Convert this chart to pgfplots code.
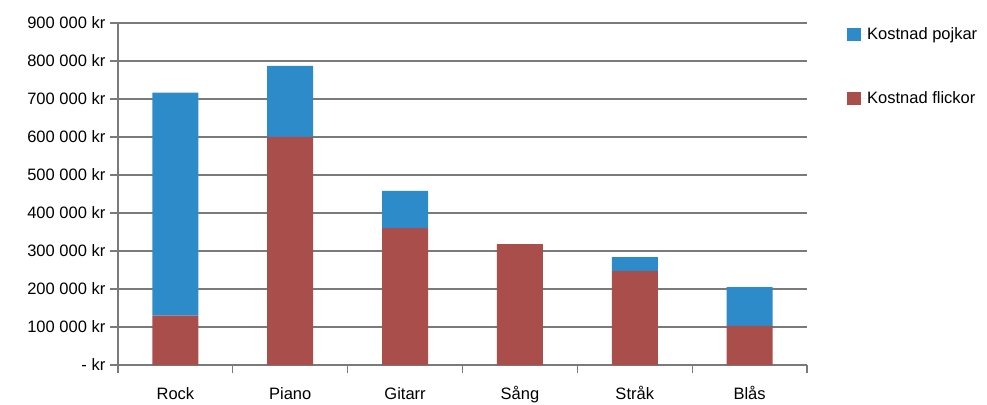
\documentclass[border=0pt]{standalone}
\usepackage{fontspec}
\setmainfont{Liberation Sans}
\usepackage{pgfplots}
\pgfplotsset{compat=1.18}
\definecolor{pojk}{HTML}{2E8BCA}
\definecolor{flick}{HTML}{A94E4B}
\definecolor{gridc}{HTML}{7A7A7A}
\begin{document}
\fontsize{16.5bp}{19bp}\selectfont
\begin{tikzpicture}
\path[use as bounding box] (-118bp,-40bp) rectangle (869bp,365bp);
\begin{axis}[
  at={(0,0)}, anchor=south west,
  scale only axis, width=689bp, height=342bp,
  ybar stacked, bar width=46bp,
  xmin=0, xmax=6, ymin=0, ymax=900000,
  axis lines*=left,
  axis line style={gridc, line width=1.3bp},
  xtick={0.5,1.5,2.5,3.5,4.5,5.5},
  xticklabels={Rock,Piano,Gitarr,Sång,Stråk,Blås},
  minor xtick={0,1,2,3,4,5,6},
  ytick={0,100000,200000,300000,400000,500000,600000,700000,800000,900000},
  yticklabels={- kr,100 000 kr,200 000 kr,300 000 kr,400 000 kr,500 000 kr,600 000 kr,700 000 kr,800 000 kr,900 000 kr},
  scaled y ticks=false,
  tick align=outside,
  major tick length=8bp, minor tick length=8bp,
  tick style={gridc, line width=1.3bp},
  x tick style={draw=none},
  minor x tick style={draw=gridc, line width=1.3bp},
  ymajorgrids, grid style={gridc, line width=1.3bp},
  tick label style={font=\fontsize{16.5bp}{19bp}\selectfont, text=black},
  yticklabel style={xshift=1bp},
  xticklabel style={yshift=-8bp, text height=13bp, text depth=4bp},
  legend style={draw=none, fill=none, inner sep=0pt, at={(1.058,0.994)}, anchor=north west,
    row sep=46bp, font=\fontsize{16.5bp}{19bp}\selectfont, cells={anchor=west}},
  legend image code/.code={\fill[#1] (0bp,-6.5bp) rectangle (14bp,6.5bp); \path (0bp,0bp) -- (18bp,0bp);},
  reverse legend,
]
\addplot[fill=flick, draw=none] coordinates {(0.5,130000) (1.5,600000) (2.5,360000) (3.5,318000) (4.5,247000) (5.5,103000)};
\addplot[fill=pojk, draw=none] coordinates {(0.5,587000) (1.5,187000) (2.5,98000) (3.5,0) (4.5,37000) (5.5,102000)};
\legend{Kostnad flickor, Kostnad pojkar}
\end{axis}
\end{tikzpicture}
\end{document}
